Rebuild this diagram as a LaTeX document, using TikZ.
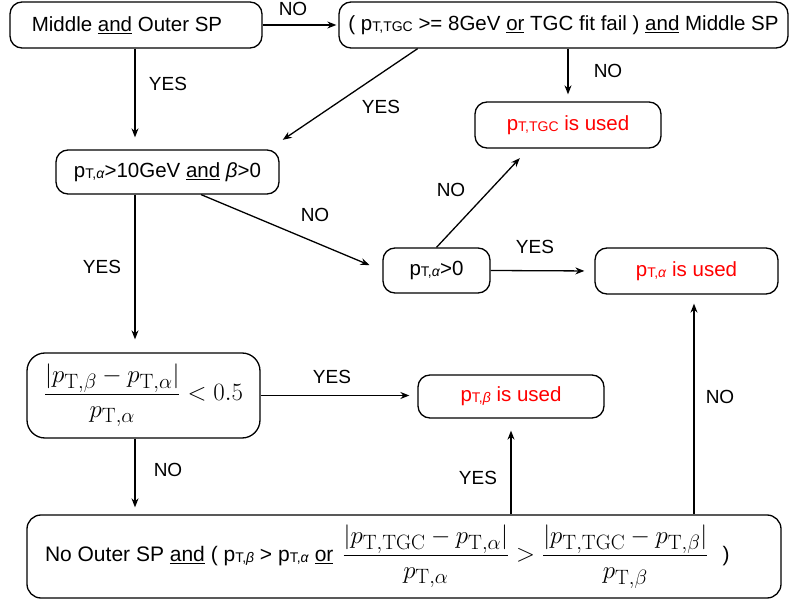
\documentclass[tikz,border=0pt]{standalone}
\usepackage[no-math]{fontspec}
\setmainfont{Liberation Sans}
\usetikzlibrary{arrows.meta,calc}
\newcommand{\psub}[1]{p\raisebox{-1pt}{\fontsize{14}{14}\selectfont #1}}
\newcommand{\undl}[1]{\underline{#1}}
\newcommand{\gal}{\textit{α}}
\newcommand{\gbe}{\textit{β}}
\begin{document}
\begin{tikzpicture}[x=1pt,y=-1pt,
  box/.style={draw, line width=1.3pt, rounded corners=12pt, inner sep=0pt, font=\fontsize{20.5}{24}\selectfont},
  used/.style={box, text=red},
  lbl/.style={font=\fontsize{19}{23}\selectfont, inner sep=0pt},
  arr/.style={line width=1.3pt, -{Stealth[length=9pt,width=7pt]}}]
\useasboundingbox (0,0) rectangle (790,601);

% nodes
\node[box, minimum width=252pt, minimum height=46pt] (A) at (136,25) {Middle \undl{and} Outer SP\hspace*{18pt}};
\node[box, minimum width=449pt, minimum height=46pt] (B) at (563.5,25) {( \psub{T,TGC} >= 8GeV \undl{or} TGC fit fail ) \undl{and} Middle SP};
\node[box, minimum width=223pt, minimum height=44pt] (C) at (167.5,172) {\psub{T,\gal}>10GeV \undl{and} \gbe>0};
\node[used, minimum width=186pt, minimum height=46pt] (D) at (568,125) {\psub{T,TGC} is used};
\node[box, minimum width=107pt, minimum height=45pt] (E) at (436.5,270.5) {\psub{T,\gal}>0};
\node[used, minimum width=183pt, minimum height=46pt] (F) at (686.5,271) {\psub{T,\gal} is used};
\node[box, rounded corners=18pt, minimum width=233pt, minimum height=85pt] (G) at (143.5,395.5)
  {\fontsize{28.5}{34}\selectfont $\displaystyle \frac{|p_{\mathrm{T},\beta}-p_{\mathrm{T},\alpha}|}{p_{\mathrm{T},\alpha}} < 0.5$};
\node[used, minimum width=186pt, minimum height=43pt] (H) at (511,396.5) {\psub{T,\gbe} is used};
\node[box, rounded corners=14pt, minimum width=754pt, minimum height=83pt] (I) at (404,556.5)
  {\makebox[718pt][l]{\fontsize{21}{25}\selectfont No Outer SP \undl{and} ( \psub{T,\gbe} > \psub{T,\gal} \undl{or}\hspace{9pt}%
   {\fontsize{28.5}{34}\selectfont $\displaystyle \frac{|p_{\mathrm{T,TGC}}-p_{\mathrm{T},\alpha}|}{p_{\mathrm{T},\alpha}} > \frac{|p_{\mathrm{T,TGC}}-p_{\mathrm{T},\beta}|}{p_{\mathrm{T},\beta}}$}\hspace{14pt})}};

\coordinate (xl) at (135,0);
\coordinate (xr) at (694,0);

% connectors
\draw[arr, shorten >=2pt] (A.east) -- (B.west);
\draw[arr, shorten >=12pt] (A.south -| xl) -- (C.north -| xl);
\draw[arr, shorten >=7pt] (B.south -| D.north) -- (D.north);
\draw[arr, shorten >=17pt] ($(B.south west)!0.176!(B.south east)$) -- ($(C.north west)!0.951!(C.north east)$);
\draw[arr, shorten >=14pt] ($(C.south west)!0.65!(C.south east)$) -- (E.west);
\draw[arr, shorten >=13pt] (E.north) -- ($(D.south west)!0.29!(D.south east)$);
\draw[arr, shorten >=10pt] (E.east) -- (F.west);
\draw[arr, shorten >=13pt] (C.south -| xl) -- (G.north -| xl);
\draw[arr, shorten >=8pt] (G.east) -- (G.east -| H.west);
\draw[arr, shorten >=7pt] (G.south -| xl) -- (I.north -| xl);
\draw[arr, shorten >=12pt] (I.north -| H.south) -- (H.south);
\draw[arr, shorten >=9pt] (I.north -| xr) -- (F.south -| xr);

% labels
\node[lbl] (l1) at (293,9) {NO};
\node[lbl] (l2) at (168,84) {YES};
\node[lbl] (l3) at (381,107) {YES};
\node[lbl] (l4) at (608,71) {NO};
\node[lbl] (l5) at (315,215) {NO};
\node[lbl] (l6) at (451,190) {NO};
\node[lbl] (l7) at (535,247) {YES};
\node[lbl] (l8) at (102,267) {YES};
\node[lbl] (l9) at (332,377) {YES};
\node[lbl] (l10) at (168,470) {NO};
\node[lbl] (l11) at (478,478) {YES};
\node[lbl] (l12) at (720,397) {NO};
\end{tikzpicture}
\end{document}
